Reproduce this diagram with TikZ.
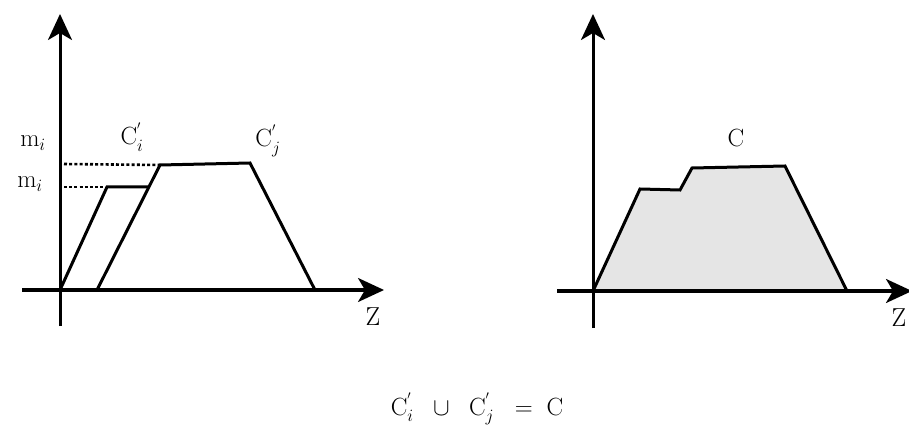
\documentclass[tikz,border=0pt]{standalone}
\usetikzlibrary{arrows.meta}
\begin{document}
\begin{tikzpicture}[x=1pt,y=-1pt,
  axis/.style={line width=3pt,-{Stealth[length=26pt,width=24pt,inset=7pt]}},
  curve/.style={line width=3pt,line join=miter},
  guide/.style={line width=2.6pt,dash pattern=on 3pt off 2.2pt},
  lbl/.style={inner sep=0pt,anchor=base,font=\fontsize{25}{29}\selectfont},
  zlbl/.style={inner sep=0pt,anchor=base,font=\fontsize{26}{30}\selectfont}]
\useasboundingbox (0,0) rectangle (909,427);
% left panel
\coordinate (oL) at (60,290);
\coordinate (ybL) at (60,326);
\coordinate (ytL) at (60,14);
\coordinate (xbL) at (22,290);
\coordinate (xtL) at (384,290);
\coordinate (a1) at (107,187);
\coordinate (a2) at (148,187);
\coordinate (b0) at (97,290);
\coordinate (b1) at (160,165);
\coordinate (b2) at (250,163);
\coordinate (b3) at (315,290);
\coordinate (d1) at (64,187);
\coordinate (d2) at (64,164);
\draw[guide] (d1) -- (a1);
\draw[guide] (d2) -- (b1);
\draw[curve] (oL) -- (a1) -- (a2);
\draw[curve] (b0) -- (b1) -- (b2) -- (b3) -- (oL);
\draw[line width=3pt] (ybL) -- (oL);
\draw[axis] (oL) -- (ytL);
\draw[axis] (xbL) -- (xtL);
\node[lbl] (m1) at (33,147) {$\mathrm{m}_i$};
\node[lbl] (m2) at (30,188) {$\mathrm{m}_i$};
\node[lbl] (ci) at (132,145) {$\mathrm{C}^{'}_{i}$};
\node[lbl] (cj) at (268,147) {$\mathrm{C}^{'}_{j}$};
\node[zlbl] (zL) at (373,325) {Z};
% right panel
\coordinate (oR) at (593,291);
\coordinate (ybR) at (593,328);
\coordinate (ytR) at (593,14);
\coordinate (xbR) at (557,291);
\coordinate (xtR) at (912,291);
\coordinate (c1) at (640,189);
\coordinate (c2) at (680,190);
\coordinate (c3) at (692,168);
\coordinate (c4) at (785,166);
\coordinate (c5) at (847,291);
\draw[curve,fill=black!10] (oR) -- (c1) -- (c2) -- (c3) -- (c4) -- (c5) -- cycle;
\draw[line width=3pt] (ybR) -- (oR);
\draw[axis] (oR) -- (ytR);
\draw[axis] (xbR) -- (xtR);
\node[lbl] (cc) at (736,147) {$\mathrm{C}$};
\node[zlbl] (zR) at (899,326) {Z};
% equation
\node[lbl] (eq) at (477,415) {$\mathrm{C}^{'}_{i}\;\;\cup\;\;\mathrm{C}^{'}_{j}\;\;\;\mathbf{=}\;\;\mathrm{C}$};
\end{tikzpicture}
\end{document}
